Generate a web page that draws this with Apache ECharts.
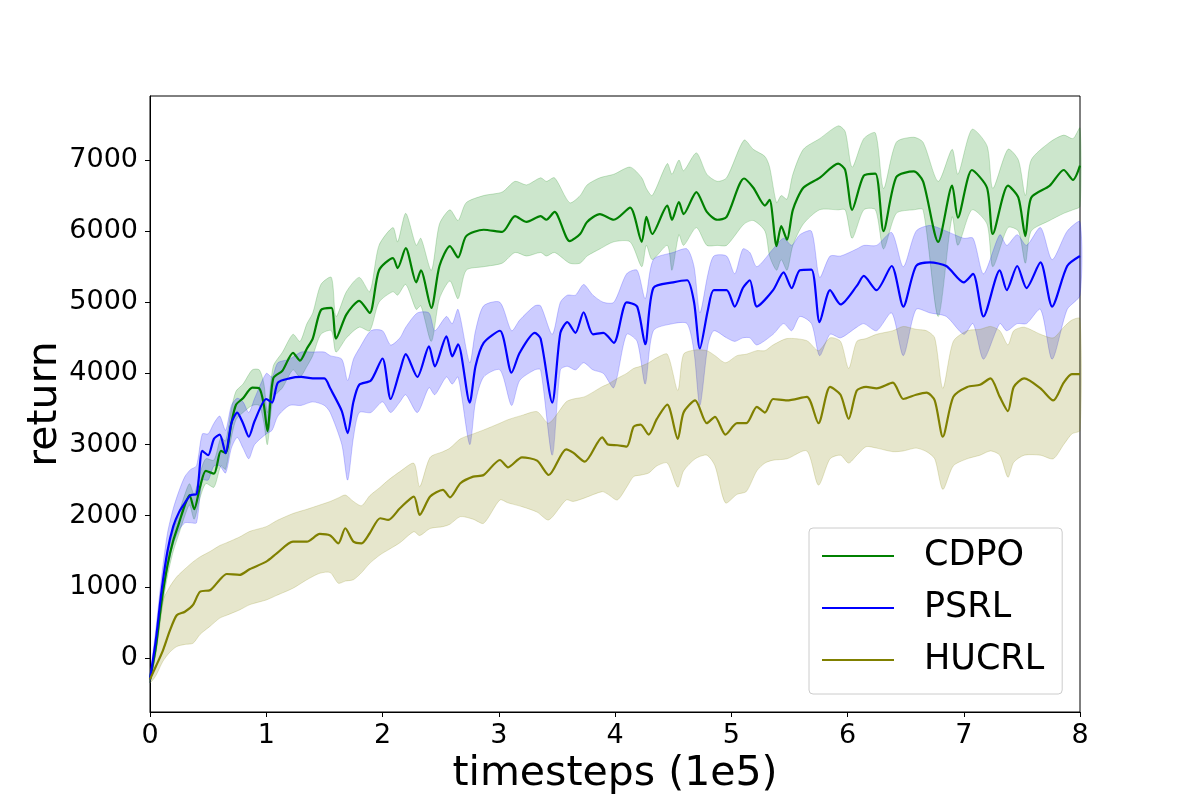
<!DOCTYPE html>
<html>
<head>
<meta charset="utf-8">
<script src="https://cdn.jsdelivr.net/npm/echarts@6/dist/echarts.min.js"></script>
<style>
  html, body { margin: 0; padding: 0; background: #fff; }
  #chart { width: 1200px; height: 800px; }
</style>
</head>
<body>
<div id="chart"></div>
<script>
// tick labels
var xTicks = [0, 1, 2, 3, 4, 5, 6, 7, 8];
var yTicks = [0, 1000, 2000, 3000, 4000, 5000, 6000, 7000];

// CDPO
var cdpoX = [0, 0.05, 0.10, 0.15, 0.20, 0.25, 0.30, 0.34, 0.38, 0.43,
  0.48, 0.55, 0.61, 0.65, 0.70, 0.74, 0.80, 0.88, 0.94, 0.98,
  1.01, 1.06, 1.14, 1.23, 1.29, 1.35, 1.40, 1.47, 1.56, 1.60,
  1.69, 1.80, 1.89, 1.97, 2.09, 2.13, 2.20, 2.29, 2.33, 2.42,
  2.49, 2.58, 2.65, 2.72, 2.87, 3.03, 3.14, 3.24, 3.36, 3.41,
  3.48, 3.61, 3.70, 3.76, 3.87, 3.99, 4.13, 4.23, 4.27, 4.32,
  4.45, 4.49, 4.55, 4.59, 4.70, 4.79, 4.88, 4.96, 5.11, 5.19,
  5.29, 5.33, 5.39, 5.43, 5.48, 5.53, 5.62, 5.76, 5.92, 5.98,
  6.04, 6.14, 6.24, 6.31, 6.42, 6.57, 6.65, 6.78, 6.90, 6.95,
  7.07, 7.20, 7.25, 7.38, 7.47, 7.53, 7.58, 7.74, 7.86, 7.94,
  8.00];
var cdpoMean = [-300, 150, 800, 1300, 1650, 1900, 2150, 2290, 2090, 2400,
  2630, 2590, 2910, 2880, 3300, 3560, 3650, 3800, 3790, 3550,
  3190, 3930, 4040, 4290, 4180, 4350, 4490, 4890, 4920, 4490,
  4830, 5020, 4850, 5450, 5620, 5480, 5760, 5280, 5450, 4920,
  5510, 5790, 5630, 5930, 6020, 5990, 6210, 6130, 6210, 6160,
  6270, 5860, 5960, 6130, 6240, 6160, 6330, 5850, 6200, 5960,
  6360, 6160, 6410, 6240, 6550, 6270, 6160, 6200, 6740, 6610,
  6360, 6440, 5790, 6070, 5880, 6300, 6610, 6750, 6950, 6860,
  6300, 6780, 6810, 6000, 6760, 6840, 6700, 5850, 6640, 6190,
  6860, 6610, 5960, 6640, 6470, 5930, 6470, 6640, 6860, 6720,
  6920];
var cdpoLow = [-350, 50, 650, 1150, 1500, 1750, 2000, 2150, 1950, 2250,
  2450, 2400, 2700, 2650, 3100, 3350, 3450, 3550, 3550, 3300,
  3000, 3650, 3800, 4050, 3950, 4100, 4250, 4550, 4600, 4300,
  4500, 4650, 4600, 5000, 5150, 5100, 5250, 4900, 4950, 4450,
  5050, 5300, 5050, 5450, 5500, 5550, 5700, 5650, 5700, 5650,
  5700, 5550, 5550, 5650, 5750, 5850, 5850, 5500, 5800, 5600,
  5800, 5450, 5950, 5800, 6050, 5800, 5800, 5800, 6100, 6150,
  6000, 5650, 5450, 5600, 5450, 5800, 6100, 6300, 6300, 6300,
  5900, 6300, 6300, 5750, 6250, 6300, 6300, 4800, 6200, 5800,
  6300, 6100, 5500, 6050, 6000, 5550, 6000, 6150, 6250, 6300,
  6350];
var cdpoHigh = [-250, 250, 950, 1450, 1800, 2050, 2300, 2450, 2300, 2600,
  2800, 2780, 3100, 3050, 3500, 3750, 3850, 4050, 4050, 3850,
  3450, 4100, 4300, 4550, 4450, 4700, 4850, 5250, 5350, 4800,
  5150, 5350, 5150, 5800, 6050, 5850, 6250, 5800, 5900, 5450,
  6100, 6300, 6150, 6400, 6500, 6550, 6700, 6650, 6750, 6700,
  6750, 6400, 6500, 6650, 6750, 6800, 6900, 6750, 6600, 6500,
  6950, 6800, 7000, 6850, 7100, 6800, 6700, 6750, 7280, 7150,
  7050, 6900, 6400, 6500, 6450, 6800, 7150, 7300, 7480, 7400,
  6900, 7300, 7380, 6600, 7250, 7320, 7250, 6700, 7150, 6800,
  7430, 7200, 6600, 7150, 7000, 6500, 7000, 7250, 7350, 7300,
  7450];

// PSRL
var psrlX = [0, 0.05, 0.10, 0.15, 0.20, 0.25, 0.30, 0.35, 0.40, 0.45,
  0.50, 0.55, 0.60, 0.65, 0.70, 0.75, 0.80, 0.85, 0.90, 1.00,
  1.05, 1.10, 1.20, 1.30, 1.40, 1.50, 1.55, 1.65, 1.70, 1.75,
  1.80, 1.90, 2.00, 2.07, 2.15, 2.20, 2.30, 2.40, 2.45, 2.55,
  2.60, 2.65, 2.75, 2.80, 2.87, 3.01, 3.11, 3.18, 3.31, 3.36,
  3.46, 3.53, 3.59, 3.66, 3.73, 3.81, 3.90, 3.99, 4.10, 4.19,
  4.26, 4.33, 4.50, 4.62, 4.68, 4.73, 4.80, 4.85, 4.96, 5.03,
  5.10, 5.16, 5.22, 5.36, 5.45, 5.52, 5.59, 5.69, 5.76, 5.85,
  5.94, 6.08, 6.14, 6.25, 6.38, 6.48, 6.59, 6.71, 6.85, 7.00,
  7.08, 7.17, 7.31, 7.37, 7.46, 7.54, 7.66, 7.76, 7.89, 8.00];
var psrlMean = [-300, 250, 950, 1500, 1850, 2050, 2180, 2290, 2300, 2910,
  2850, 3080, 3140, 2880, 3300, 3450, 3300, 3110, 3330, 3640,
  3590, 3870, 3930, 3950, 3930, 3930, 3790, 3470, 3160, 3600,
  3840, 3900, 4210, 3640, 4040, 4270, 3950, 4380, 4100, 4520,
  4240, 4410, 3590, 4100, 4430, 4600, 4010, 4290, 4570, 4490,
  3590, 4570, 4720, 4570, 4860, 4550, 4570, 4430, 5000, 4940,
  4410, 5200, 5280, 5310, 5000, 4350, 4900, 5170, 5170, 4940,
  5200, 5310, 4940, 5170, 5420, 5200, 5450, 5460, 4720, 5170,
  4970, 5230, 5370, 5170, 5510, 4940, 5510, 5560, 5510, 5280,
  5400, 4800, 5450, 5170, 5510, 5200, 5560, 4940, 5510, 5650];
var psrlLow = [-350, 100, 750, 1250, 1600, 1800, 1900, 1900, 1900, 2500,
  2500, 2700, 2700, 2600, 2950, 3100, 2950, 2800, 3000, 3150,
  3200, 3400, 3550, 3550, 3600, 3550, 3450, 3000, 2500, 3100,
  3450, 3450, 3600, 3450, 3600, 3700, 3450, 3800, 3700, 3950,
  3850, 3950, 3000, 3600, 3950, 4050, 3550, 3900, 4050, 4050,
  2850, 4050, 4100, 4050, 4150, 4050, 4000, 3800, 4550, 4450,
  3850, 4600, 4700, 4700, 4300, 3550, 4400, 4600, 4500, 4450,
  4500, 4500, 4400, 4550, 4700, 4600, 4800, 4700, 4250, 4550,
  4500, 4650, 4700, 4600, 4850, 4250, 4900, 4850, 4800, 4550,
  4700, 4200, 4700, 4600, 4700, 4700, 4900, 4200, 4900, 5100];
var psrlHigh = [-250, 400, 1150, 1750, 2100, 2350, 2550, 2650, 2700, 3150,
  3150, 3300, 3400, 3200, 3550, 3650, 3600, 3450, 3650, 4000,
  3950, 4150, 4200, 4300, 4300, 4300, 4250, 4200, 3900, 4200,
  4350, 4600, 4600, 4400, 4500, 4650, 4850, 4850, 4600, 4800,
  4700, 4900, 4150, 4600, 4950, 5000, 4600, 4750, 4950, 4950,
  4550, 5000, 5100, 5100, 5250, 5100, 5000, 5000, 5400, 5450,
  5050, 5600, 5700, 5750, 5500, 4850, 5400, 5650, 5650, 5400,
  5750, 5700, 5500, 5750, 5900, 5800, 5950, 6000, 5350, 5650,
  5650, 5750, 5800, 5800, 5980, 5500, 6000, 6080, 6000, 5900,
  5900, 5400, 5950, 5800, 5950, 5800, 6050, 5600, 6000, 6130];

// HUCRL
var hucrlX = [0, 0.05, 0.11, 0.17, 0.23, 0.30, 0.37, 0.43, 0.52, 0.60,
  0.66, 0.77, 0.86, 1.00, 1.09, 1.23, 1.35, 1.46, 1.55, 1.62,
  1.68, 1.75, 1.82, 1.89, 1.98, 2.05, 2.15, 2.27, 2.32, 2.41,
  2.52, 2.58, 2.67, 2.78, 2.87, 3.01, 3.08, 3.20, 3.33, 3.43,
  3.58, 3.64, 3.74, 3.89, 3.94, 4.02, 4.10, 4.16, 4.22, 4.29,
  4.36, 4.45, 4.54, 4.59, 4.69, 4.79, 4.86, 4.95, 5.05, 5.13,
  5.22, 5.29, 5.36, 5.48, 5.65, 5.75, 5.85, 5.94, 6.01, 6.08,
  6.16, 6.25, 6.39, 6.48, 6.59, 6.68, 6.75, 6.82, 6.91, 7.03,
  7.14, 7.23, 7.31, 7.38, 7.43, 7.52, 7.66, 7.77, 7.86, 7.93,
  8.00];
var hucrlMean = [-300, -120, 100, 380, 600, 650, 745, 930, 956, 1100,
  1180, 1167, 1250, 1354, 1470, 1635, 1635, 1743, 1720, 1612,
  1823, 1635, 1612, 1753, 1964, 1940, 2104, 2268, 2010, 2268,
  2362, 2258, 2456, 2549, 2572, 2783, 2680, 2820, 2774, 2572,
  2933, 2886, 2760, 3102, 3000, 2990, 2970, 3250, 3280, 3140,
  3360, 3560, 3080, 3450, 3620, 3300, 3390, 3140, 3300, 3300,
  3530, 3450, 3640, 3620, 3670, 3300, 3810, 3700, 3360, 3760,
  3810, 3790, 3870, 3640, 3700, 3730, 3620, 3110, 3670, 3810,
  3840, 3930, 3670, 3470, 3810, 3930, 3790, 3620, 3870, 3990,
  3990];
var hucrlLow = [-350, -250, -50, 80, 160, 190, 206, 330, 450, 560,
  600, 675, 750, 815, 880, 980, 1100, 1190, 1200, 1050,
  1080, 1100, 1200, 1330, 1450, 1520, 1620, 1775, 1720, 1820,
  1846, 1880, 1987, 1950, 1893, 2221, 2180, 2127, 2050, 1940,
  2221, 2200, 2250, 2338, 2300, 2221, 2400, 2550, 2570, 2600,
  2700, 2740, 2400, 2630, 2800, 2850, 2700, 2180, 2300, 2340,
  2630, 2740, 2780, 2800, 2910, 2430, 2800, 2850, 2740, 2850,
  2970, 2950, 2900, 2910, 2950, 2900, 2800, 2370, 2700, 2800,
  2850, 2910, 2850, 2540, 2750, 2850, 2850, 2800, 3000, 3150,
  3200];
var hucrlHigh = [-250, 150, 800, 1000, 1140, 1250, 1350, 1420, 1500, 1580,
  1620, 1700, 1780, 1846, 1930, 2030, 2090, 2150, 2200, 2250,
  2290, 2200, 2140, 2280, 2400, 2500, 2620, 2736, 2408, 2820,
  2900, 2950, 3080, 3150, 3205, 3300, 3350, 3410, 3462, 3300,
  3600, 3640, 3673, 3814, 3850, 3930, 4000, 4070, 4100, 4150,
  4220, 4270, 3760, 4270, 4330, 4320, 4250, 4150, 4250, 4270,
  4320, 4320, 4400, 4490, 4460, 4320, 4500, 4450, 4070, 4450,
  4490, 4550, 4600, 4660, 4620, 4600, 4500, 3790, 4450, 4600,
  4620, 4660, 4600, 4400, 4600, 4650, 4550, 4500, 4650, 4750,
  4770];

var FONT = 'DejaVu Sans';

function pairs(xs, ys) {
  return xs.map(function (x, i) { return [x, ys[i]]; });
}

// shaded min/max band drawn as one polygon through the axes
function band(name, xs, lo, hi, color) {
  return {
    type: 'custom',
    name: name,
    silent: true,
    data: [[0, 0]],
    renderItem: function (params, api) {
      var pts = [];
      for (var i = 0; i < xs.length; i++) pts.push(api.coord([xs[i], hi[i]]));
      for (var j = xs.length - 1; j >= 0; j--) pts.push(api.coord([xs[j], lo[j]]));
      return {
        type: 'polygon',
        shape: { points: pts, smooth: 0.25 },
        style: { fill: color, stroke: color, lineWidth: 1, opacity: 0.2 }
      };
    }
  };
}

function line(name, xs, ys, color) {
  return {
    type: 'line',
    name: name,
    data: pairs(xs, ys),
    color: color,
    showSymbol: false,
    symbol: 'none',
    smooth: 0.25,
    lineStyle: { color: color, width: 2.2 }
  };
}

var myChart = echarts.init(document.getElementById('chart'));
var option = {
  animation: false,
  backgroundColor: '#fff',
  textStyle: { fontFamily: FONT },
  grid: {
    left: 150, right: 120, top: 96, bottom: 88,
    show: true, borderColor: '#000', borderWidth: 1
  },
  legend: {
    data: ['CDPO', 'PSRL', 'HUCRL'],
    orient: 'vertical',
    left: 809,
    top: 528,
    icon: 'rect',
    itemWidth: 72,
    itemHeight: 2,
    itemGap: 10,
    padding: [7, 18, 13, 13],
    backgroundColor: 'rgba(255,255,255,0.8)',
    borderColor: '#cccccc',
    borderWidth: 1,
    borderRadius: 4,
    textStyle: {
      fontFamily: FONT, fontSize: 35, color: '#000',
      lineHeight: 42, padding: [0, 0, 0, 25]
    }
  },
  xAxis: {
    type: 'value',
    min: 0,
    max: 8,
    interval: 1,
    name: 'timesteps (1e5)',
    nameLocation: 'middle',
    nameGap: 42,
    nameMoveOverlap: false,
    nameTextStyle: { fontFamily: FONT, fontSize: 41, color: '#000' },
    axisLine: { onZero: false, lineStyle: { color: '#000', width: 1 } },
    axisTick: { inside: false, length: 5, lineStyle: { color: '#000' } },
    axisLabel: {
      fontFamily: FONT, fontSize: 27, color: '#000', margin: 10,
      formatter: function (v) { return xTicks.indexOf(v) >= 0 ? String(v) : ''; }
    },
    splitLine: { show: false }
  },
  yAxis: {
    type: 'value',
    min: -760,
    max: 7900,
    name: 'return',
    nameLocation: 'middle',
    nameGap: 84,
    nameMoveOverlap: false,
    nameRotate: 90,
    nameTextStyle: { fontFamily: FONT, fontSize: 41, color: '#000' },
    axisLine: { show: true, onZero: false, lineStyle: { color: '#000', width: 1 } },
    axisTick: { show: true, inside: false, length: 5, customValues: yTicks, lineStyle: { color: '#000' } },
    axisLabel: {
      fontFamily: FONT, fontSize: 27, color: '#000', margin: 12, customValues: yTicks,
      formatter: function (v) { return String(v); }
    },
    splitLine: { show: false }
  },
  series: [
    line('CDPO', cdpoX, cdpoMean, '#008000'),
    band('CDPO band', cdpoX, cdpoLow, cdpoHigh, '#008000'),
    line('PSRL', psrlX, psrlMean, '#0000ff'),
    band('PSRL band', psrlX, psrlLow, psrlHigh, '#0000ff'),
    line('HUCRL', hucrlX, hucrlMean, '#808000'),
    band('HUCRL band', hucrlX, hucrlLow, hucrlHigh, '#808000')
  ]
};
myChart.setOption(option);
</script>
</body>
</html>
